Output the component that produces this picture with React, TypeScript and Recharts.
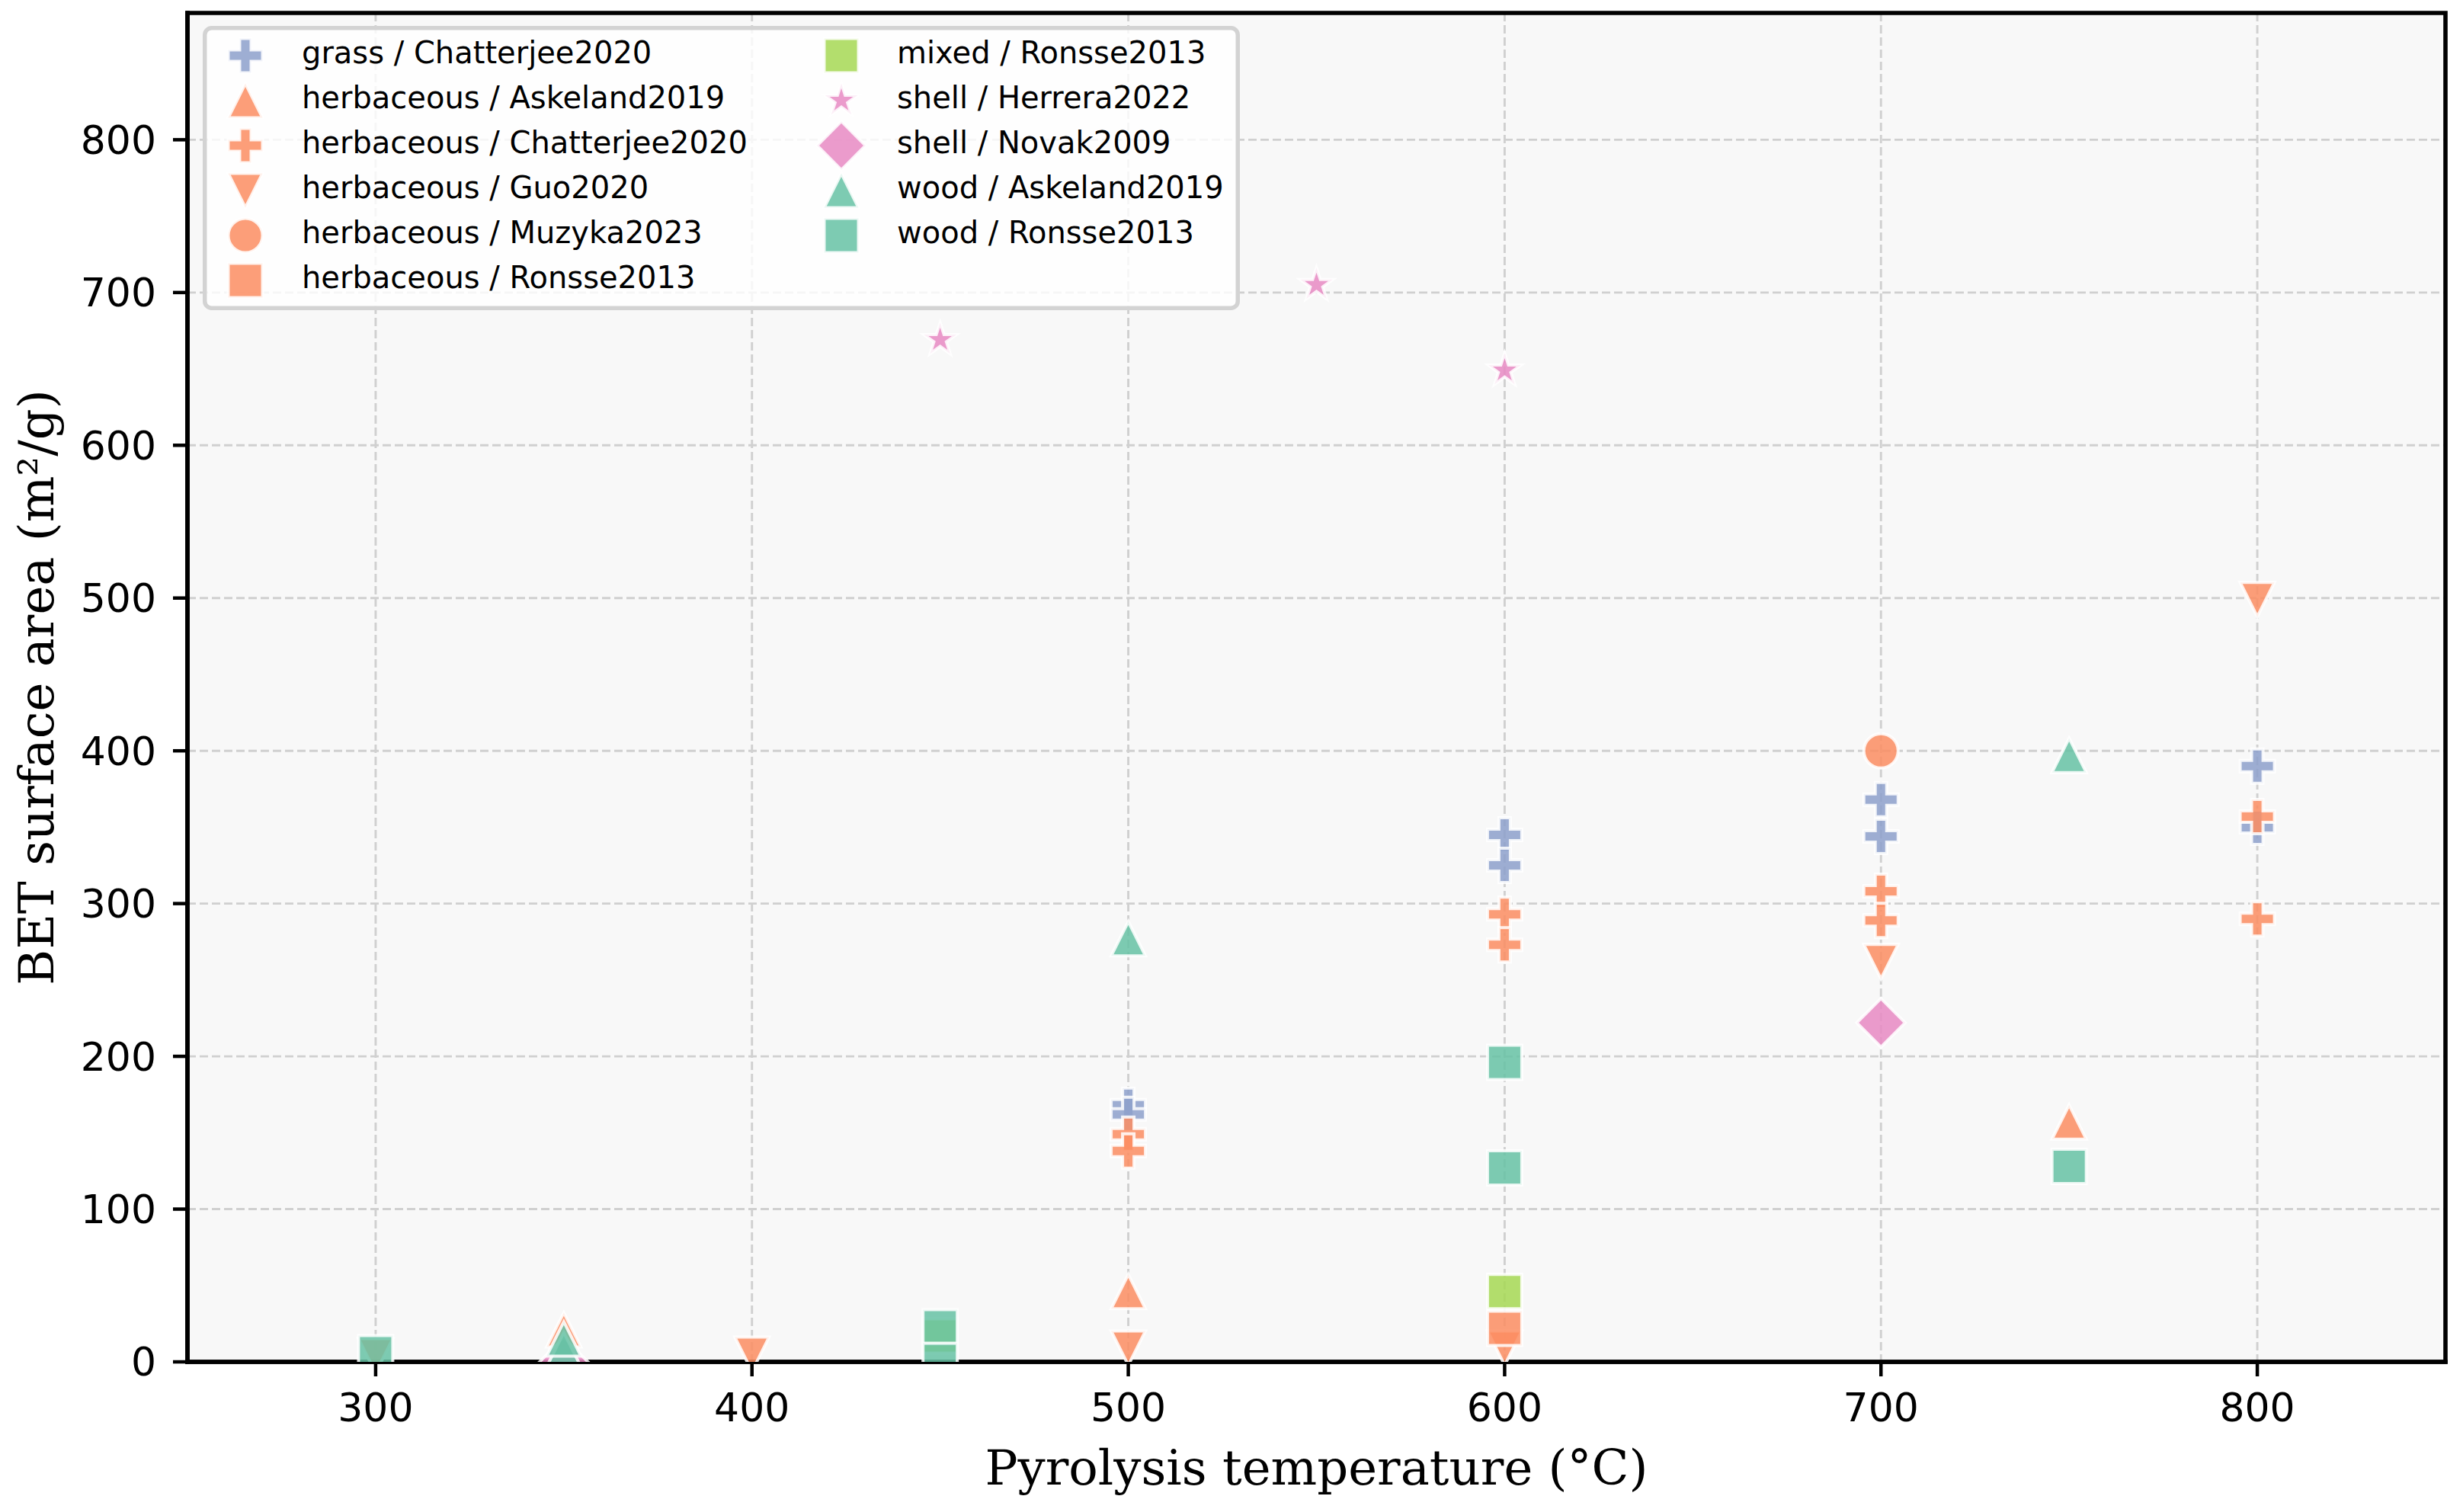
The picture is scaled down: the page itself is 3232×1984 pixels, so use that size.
import React from 'react';
import { ScatterChart, Scatter, XAxis, YAxis, CartesianGrid, Legend, Label, ReferenceArea } from 'recharts';

const CHART_W = 3232;
const CHART_H = 1984;

// axis ticks and ranges
const xTicks = [300, 400, 500, 600, 700, 800];
const yTicks = [0, 100, 200, 300, 400, 500, 600, 700, 800];
const xDomain: [number, number] = [250, 850];
const yDomain: [number, number] = [0, 883];

// series values: pyrolysis temperature (°C) and BET surface area (m²/g)
const grassChatterjeeTemp = [500, 500, 600, 600, 700, 700, 800, 800];
const grassChatterjeeBET = [168, 162, 345, 325, 368, 344, 390, 350];
const herbAskelandTemp = [350, 500, 750];
const herbAskelandBET = [21, 46, 157];
const herbChatterjeeTemp = [500, 500, 600, 600, 700, 700, 800, 800];
const herbChatterjeeBET = [149, 138, 293, 273, 308, 289, 357, 290];
const herbGuoTemp = [300, 400, 500, 600, 700, 800];
const herbGuoBET = [4, 5, 9, 9, 262, 499];
const herbMuzykaTemp = [700];
const herbMuzykaBET = [400];
const herbRonsseTemp = [600];
const herbRonsseBET = [22];
const mixedRonsseTemp = [450, 600];
const mixedRonsseBET = [17, 46];
const shellHerreraTemp = [450, 550, 600];
const shellHerreraBET = [669, 705, 649];
const shellNovakTemp = [350, 700];
const shellNovakBET = [0, 222];
const woodAskelandTemp = [350, 350, 500, 750];
const woodAskelandBET = [8, 15, 277, 397];
const woodRonsseTemp = [300, 450, 450, 600, 600, 750];
const woodRonsseBET = [6, 23, 1, 196, 127, 128];

const feedstockColors: Record<string, string> = {
  grass: '#8da0cb',
  herbaceous: '#fc8d62',
  mixed: '#a6d854',
  shell: '#e78ac3',
  wood: '#66c2a5',
};

type MarkerKind = 'plus' | 'triUp' | 'triDown' | 'circle' | 'square' | 'star' | 'diamond';

interface SeriesDef {
  name: string;
  feedstock: string;
  marker: MarkerKind;
  temps: number[];
  bets: number[];
}

const seriesDefs: SeriesDef[] = [
  { name: 'grass / Chatterjee2020', feedstock: 'grass', marker: 'plus', temps: grassChatterjeeTemp, bets: grassChatterjeeBET },
  { name: 'herbaceous / Askeland2019', feedstock: 'herbaceous', marker: 'triUp', temps: herbAskelandTemp, bets: herbAskelandBET },
  { name: 'herbaceous / Chatterjee2020', feedstock: 'herbaceous', marker: 'plus', temps: herbChatterjeeTemp, bets: herbChatterjeeBET },
  { name: 'herbaceous / Guo2020', feedstock: 'herbaceous', marker: 'triDown', temps: herbGuoTemp, bets: herbGuoBET },
  { name: 'herbaceous / Muzyka2023', feedstock: 'herbaceous', marker: 'circle', temps: herbMuzykaTemp, bets: herbMuzykaBET },
  { name: 'herbaceous / Ronsse2013', feedstock: 'herbaceous', marker: 'square', temps: herbRonsseTemp, bets: herbRonsseBET },
  { name: 'mixed / Ronsse2013', feedstock: 'mixed', marker: 'square', temps: mixedRonsseTemp, bets: mixedRonsseBET },
  { name: 'shell / Herrera2022', feedstock: 'shell', marker: 'star', temps: shellHerreraTemp, bets: shellHerreraBET },
  { name: 'shell / Novak2009', feedstock: 'shell', marker: 'diamond', temps: shellNovakTemp, bets: shellNovakBET },
  { name: 'wood / Askeland2019', feedstock: 'wood', marker: 'triUp', temps: woodAskelandTemp, bets: woodAskelandBET },
  { name: 'wood / Ronsse2013', feedstock: 'wood', marker: 'square', temps: woodRonsseTemp, bets: woodRonsseBET },
];

const MARKER_SIZE = 45;
const EDGE_WIDTH = 4;
const ALPHA = 0.85;

function markerPath(kind: MarkerKind, cx: number, cy: number, s: number): string {
  const h = s / 2;
  switch (kind) {
    case 'square':
      return `M${cx - h},${cy - h}H${cx + h}V${cy + h}H${cx - h}Z`;
    case 'triUp':
      return `M${cx},${cy - h}L${cx + h},${cy + h}L${cx - h},${cy + h}Z`;
    case 'triDown':
      return `M${cx},${cy + h}L${cx + h},${cy - h}L${cx - h},${cy - h}Z`;
    case 'diamond': {
      const d = h * Math.SQRT2;
      return `M${cx},${cy - d}L${cx + d},${cy}L${cx},${cy + d}L${cx - d},${cy}Z`;
    }
    case 'circle':
      return `M${cx - h},${cy}A${h},${h} 0 1,0 ${cx + h},${cy}A${h},${h} 0 1,0 ${cx - h},${cy}Z`;
    case 'plus': {
      const t = s / 6;
      const pts = [
        [-t, -h], [t, -h], [t, -t], [h, -t], [h, t], [t, t],
        [t, h], [-t, h], [-t, t], [-h, t], [-h, -t], [-t, -t],
      ];
      return 'M' + pts.map(([px, py]) => `${cx + px},${cy + py}`).join('L') + 'Z';
    }
    case 'star': {
      const R = h;
      const r = R * 0.381966;
      const pts: string[] = [];
      for (let i = 0; i < 10; i++) {
        const rad = i % 2 === 0 ? R : r;
        const ang = -Math.PI / 2 + (i * Math.PI) / 5;
        pts.push(`${cx + rad * Math.cos(ang)},${cy + rad * Math.sin(ang)}`);
      }
      return 'M' + pts.join('L') + 'Z';
    }
    default:
      return '';
  }
}

function Marker({ kind, cx, cy, color }: { kind: MarkerKind; cx: number; cy: number; color: string }) {
  if (cx == null || cy == null || isNaN(cx) || isNaN(cy)) return null;
  return (
    <path
      d={markerPath(kind, cx, cy, MARKER_SIZE)}
      fill={color}
      fillOpacity={ALPHA}
      stroke="#ffffff"
      strokeOpacity={ALPHA}
      strokeWidth={EDGE_WIDTH}
      strokeLinejoin="miter"
    />
  );
}

// legend layout
const LEGEND_LEFT = 266;
const LEGEND_TOP = 34;
const LEGEND_W = 1361;
const LEGEND_H = 373;
const LEGEND_ROWS = 6;
const LEGEND_ROW0 = 39;
const LEGEND_ROW_STEP = 59;
const LEGEND_COL_MARKER = [56, 838];
const LEGEND_COL_TEXT = [130, 911];

function renderLegend(props: any) {
  const payload: any[] = props.payload || [];
  const byName: Record<string, SeriesDef> = {};
  seriesDefs.forEach((s) => (byName[s.name] = s));
  const items = payload.length ? payload.map((p) => byName[p.value]).filter(Boolean) : seriesDefs;
  return (
    <svg width={LEGEND_W} height={LEGEND_H} style={{ display: 'block', overflow: 'visible' }}>
      <rect
        x={2.75}
        y={2.75}
        width={LEGEND_W - 5.5}
        height={LEGEND_H - 5.5}
        rx={9}
        ry={9}
        fill="#ffffff"
        fillOpacity={0.8}
        stroke="#d3d3d3"
        strokeWidth={5.5}
      />
      {items.map((s: SeriesDef, i: number) => {
        const col = Math.floor(i / LEGEND_ROWS);
        const row = i % LEGEND_ROWS;
        const cy = LEGEND_ROW0 + row * LEGEND_ROW_STEP;
        return (
          <g key={s.name}>
            <Marker kind={s.marker} cx={LEGEND_COL_MARKER[col]} cy={cy} color={feedstockColors[s.feedstock]} />
            <text
              x={LEGEND_COL_TEXT[col]}
              y={cy + 10}
              fontFamily="DejaVu Sans"
              fontSize={40}
              fill="#000000"
            >
              {s.name}
            </text>
          </g>
        );
      })}
    </svg>
  );
}

function XLabel(props: any) {
  const vb = props.viewBox || { x: 0, y: 0, width: 0, height: 0 };
  return (
    <text
      x={vb.x + vb.width / 2}
      y={vb.y + 161}
      textAnchor="middle"
      fontFamily="DejaVu Serif"
      fontSize={64}
      fill="#000000"
    >
      Pyrolysis temperature (°C)
    </text>
  );
}

function YLabel(props: any) {
  const vb = props.viewBox || { x: 0, y: 0, width: 0, height: 0 };
  const x = vb.x + 70;
  const y = vb.y + vb.height / 2;
  return (
    <text
      x={x}
      y={y}
      transform={`rotate(-90, ${x}, ${y})`}
      textAnchor="middle"
      fontFamily="DejaVu Serif"
      fontSize={64}
      fill="#000000"
    >
      BET surface area (m²/g)
    </text>
  );
}

const tickStyle = { fontSize: 52, fill: '#000000', fontFamily: 'DejaVu Sans' };
const spine = { stroke: '#000000', strokeWidth: 5.6, strokeLinecap: 'square' as const };
const tickLineStyle = { stroke: '#000000', strokeWidth: 4.5 };

export default function App() {
  return (
    <div style={{ position: 'absolute', left: 0, top: 0, width: CHART_W, height: CHART_H, background: '#ffffff' }}>
      <ScatterChart width={CHART_W} height={CHART_H} margin={{ top: 17, right: 23, bottom: 0, left: 0 }}>
        <CartesianGrid
          fill="#f8f8f8"
          stroke="#d0d0d0"
          strokeWidth={2.9}
          strokeDasharray="11 5"
          horizontalValues={yTicks}
          verticalValues={xTicks}
        />
        {seriesDefs.map((s) => (
          <Scatter
            key={s.name}
            name={s.name}
            data={s.temps.map((t, i) => ({ x: t, y: s.bets[i] }))}
            fill={feedstockColors[s.feedstock]}
            isAnimationActive={false}
            shape={(p: any) => (
              <Marker kind={s.marker} cx={p.cx} cy={p.cy} color={feedstockColors[s.feedstock]} />
            )}
          />
        ))}
        <ReferenceArea
          x1={xDomain[0]}
          x2={xDomain[1]}
          y1={yDomain[0]}
          y2={yDomain[1]}
          fill="none"
          fillOpacity={0}
          stroke="#000000"
          strokeWidth={5.6}
          ifOverflow="visible"
        />
        <XAxis
          type="number"
          dataKey="x"
          domain={xDomain}
          ticks={xTicks}
          interval={0}
          allowDataOverflow
          height={197}
          tick={tickStyle}
          tickSize={19}
          tickMargin={22}
          tickLine={tickLineStyle}
          axisLine={spine}
          label={<Label content={XLabel} />}
        />
        <YAxis
          type="number"
          dataKey="y"
          domain={yDomain}
          ticks={yTicks}
          interval={0}
          allowDataOverflow
          width={246}
          tick={tickStyle}
          tickSize={19}
          tickMargin={22}
          tickLine={tickLineStyle}
          axisLine={spine}
          label={<Label content={YLabel} />}
        />
        <Legend
          layout="horizontal"
          verticalAlign="middle"
          align="center"
          wrapperStyle={{ left: LEGEND_LEFT, top: LEGEND_TOP, width: LEGEND_W, height: LEGEND_H }}
          content={renderLegend}
        />
      </ScatterChart>
    </div>
  );
}
